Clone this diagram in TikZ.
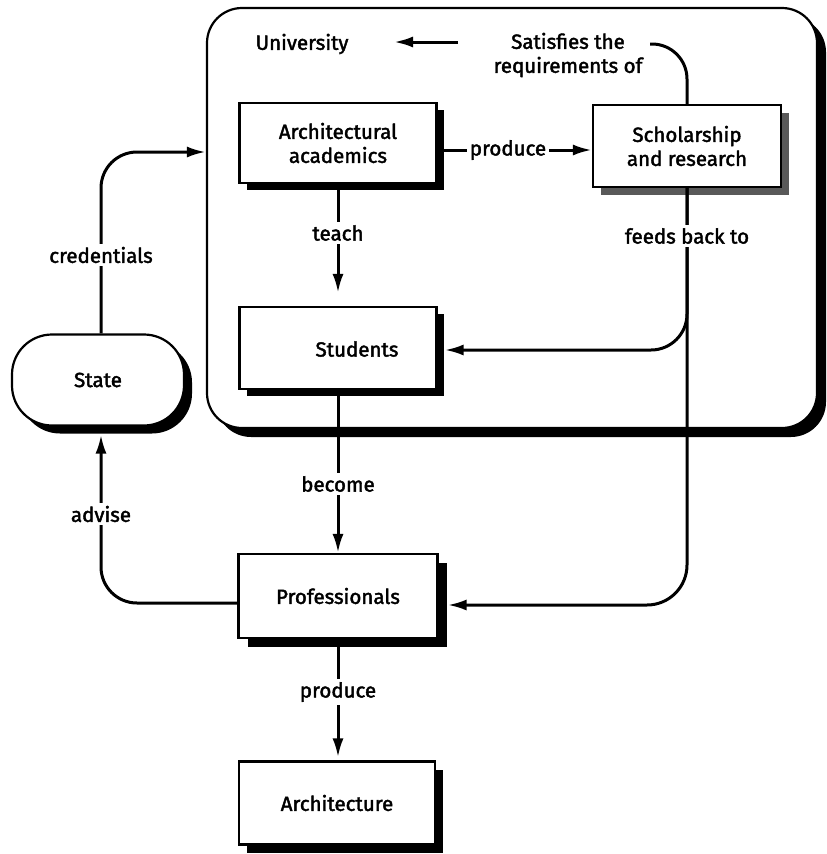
\documentclass[tikz,border=0pt]{standalone}
\usepackage{fontspec}
\setmainfont{Fira Sans}[FakeBold=2]
\usetikzlibrary{arrows.meta,shadows}
\begin{document}
\begin{tikzpicture}[x=1pt,y=-1pt, line width=3pt,
  >={Latex[length=19pt,width=11pt]},
  every node/.style={font=\fontsize{20.5}{24}\selectfont},
  box/.style={draw, line width=2.2pt, fill=white, align=center, inner sep=0pt},
  shad/.style={general shadow={shadow xshift=#1, shadow yshift=-#1, fill=black}},
  lbl/.style={fill=white, inner sep=3pt},
  conn/.style={line width=3pt},
]
\useasboundingbox (0,0) rectangle (827,854);

% University container
\node[box, rounded corners=35pt, minimum width=610pt, minimum height=420pt, shad=9pt] (univ) at (512,218) {};
\node (unitext) at (302,44) {University};
\node[align=center] (sat) at (568,55) {Satisfies the\\requirements of};
\coordinate (satarrow) at (458,42);
\coordinate (uniarrow) at (394,42);
\coordinate (satcurve) at (650,44);

% boxes
\node[box, minimum width=197pt, minimum height=80pt, shad=7pt] (acad) at (338,143) {Architectural\\academics};
\node[box, minimum width=188pt, minimum height=82pt, general shadow={shadow xshift=8pt, shadow yshift=-8pt, fill=black!65}] (sch) at (687,146) {Scholarship\\and research};
\node[box, minimum width=197pt, minimum height=82pt, shad=7pt] (stu) at (338,348) {};
\node (stutext) at (357,349) {Students};
\node[box, minimum width=199pt, minimum height=84pt, shad=9pt] (pro) at (338,596) {Professionals};
\node[box, minimum width=196pt, minimum height=83pt, shad=8pt] (arch) at (337,803) {Architecture};
\node[box, rounded corners=40pt, minimum width=172pt, minimum height=91pt, shad=8pt] (state) at (98,380) {State};

% connectors
\draw[conn,->] (satarrow) -- (uniarrow);
\draw[conn, rounded corners=35pt] (sch.north) |- (satcurve);
\draw[conn,->] ([yshift=-7pt]acad.east) -- ([yshift=-7pt]acad.east -| sch.west);
\draw[conn,->] (acad.south) -- ([yshift=13pt]stu.north);
\draw[conn,->, rounded corners=36pt] (sch.south) |- ([xshift=7pt,yshift=-2pt]stu.east);
\draw[conn,->, rounded corners=40pt] (sch.south) |- ([xshift=9pt,yshift=-9pt]pro.east);
\draw[conn,->] (stu.south) -- (pro.north);
\draw[conn,->] (pro.south) -- ([yshift=3pt]pro.south |- arch.north);
\draw[conn,->, rounded corners=36pt] ([yshift=-7pt]pro.west) -| ([xshift=3pt,yshift=-8pt]state.south);
\draw[conn,->, rounded corners=36pt] ([xshift=3pt]state.north) |- ([yshift=66pt]univ.west);

% labels
\node[lbl] (lprod1) at (508,150) {produce};
\node[lbl] (lteach) at (338,233) {teach};
\node[lbl] (lfeed) at (687,236) {feeds back to};
\node[lbl] (lbecome) at (338,484) {become};
\node[lbl] (ladvise) at (101,514) {advise};
\node[lbl] (lcred) at (101,255) {credentials};
\node[lbl] (lprod2) at (338,692) {produce};
\end{tikzpicture}
\end{document}
